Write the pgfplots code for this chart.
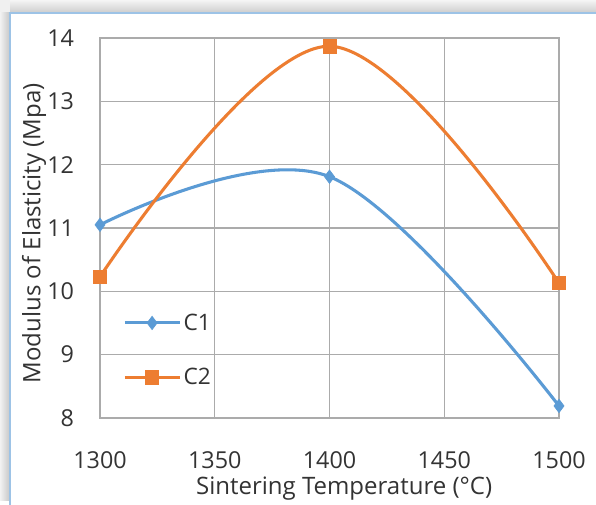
\documentclass[border=0pt]{standalone}
\usepackage{pgfplots}
\pgfplotsset{compat=1.18}
\usepackage{fontspec}
\setmainfont{Open Sans}
\definecolor{cone}{HTML}{5B9BD5}
\definecolor{ctwo}{HTML}{ED7D31}
\definecolor{gridc}{HTML}{ABABAB}
\definecolor{framec}{HTML}{9DC3E6}
\begin{document}
\begin{tikzpicture}
\begin{scope}[x=0.75pt,y=0.75pt]
\useasboundingbox (0,0) rectangle (596,501);
\fill[gray!12] (0,0) rectangle (596,501);
\shade[left color=gray!10, right color=gray!45] (0,0) rectangle (10,488);
\shade[top color=gray!8, bottom color=gray!40] (10,488) rectangle (596,501);
\fill[white] (10,0) rectangle (596,488);
\draw[framec, line width=1.2pt] (10,-5) -- (10,488) -- (600,488);
\end{scope}
\begin{axis}[
  at={(75pt,62.25pt)}, anchor=south west,
  scale only axis, width=344.25pt, height=285pt,
  xmin=1300, xmax=1500, ymin=8, ymax=14,
  xtick={1300,1350,...,1500}, ytick={8,9,...,14},
  xticklabel style={/pgf/number format/1000 sep={}},
  /pgf/number format/assume math mode=true,
  ticklabel style={font=\fontsize{17.5}{20}\selectfont, text=black!80},
  label style={font=\fontsize{18}{21}\selectfont, text=black!80},
  xticklabel shift=22pt, yticklabel shift=16pt,
  major tick length=0pt,
  grid=major, major grid style={gridc, line width=1.1pt},
  axis line style={gridc, line width=1.1pt},
  xlabel={Sintering Temperature (°C)},
  ylabel={Modulus of Elasticity (Mpa)},
  xlabel style={yshift=1pt, xshift=11pt},
  ylabel style={yshift=-6pt, xshift=-4pt},
  legend style={draw=none, fill=none, at={(0.05,0.075)}, anchor=south west,
    font=\fontsize{17}{20}\selectfont, text=black!80, row sep=23pt, inner sep=0pt},
  legend cell align=left,
  legend image code/.code={\draw[#1, mark repeat=2, mark phase=2] plot coordinates {(0pt,0pt) (20.5pt,0pt) (41pt,0pt)};},
]
\addplot[cone, line width=2.3pt, smooth, tension=0.6, mark=diamond*, mark size=5pt, mark options={solid, fill=cone, line width=0.5pt}]
  coordinates {(1300,11.05) (1400,11.81) (1500,8.19)};
\addlegendentry{C1}
\addplot[ctwo, line width=2.3pt, smooth, tension=0.6, mark=square*, mark size=5pt, mark options={solid, fill=ctwo, line width=0.5pt}]
  coordinates {(1300,10.23) (1400,13.87) (1500,10.13)};
\addlegendentry{C2}
\end{axis}
\end{tikzpicture}
\end{document}
